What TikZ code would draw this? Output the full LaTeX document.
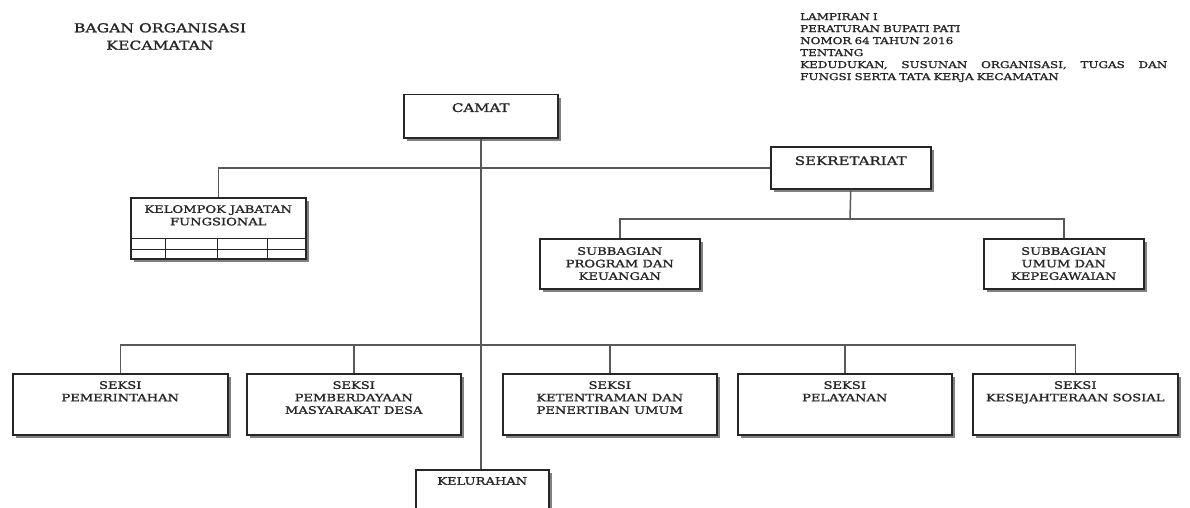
\documentclass[tikz,border=0pt]{standalone}
\usepackage{fontspec}
\setmainfont{DejaVu Serif}[FakeStretch=1.27,FakeBold=1.5]
\usetikzlibrary{positioning,shadows}
\tikzstyle{unit} = [draw=black!85, line width=1.5pt, fill=white, inner sep=0pt, anchor=north west, drop shadow={shadow xshift=3pt, shadow yshift=-3pt, fill=black!50, opacity=1}]
\tikzstyle{link} = [draw=black!65, line width=1.5pt]
\tikzset{
  unitname/.style ={inner sep=0pt, align=center, text=black!85, font=\fontsize{10.3}{12.5}\selectfont},
  cell/.style ={draw=black!85, line width=1pt}
}

\begin{document}
\begin{tikzpicture}[x=1pt,y=-1pt]
	\clip (0,0) rectangle (1190,508);
	\useasboundingbox (0,0) rectangle (1190,508);

	% judul dan lampiran
	\node[inner sep=0pt, align=center, anchor=north, text=black!85, font=\fontsize{12.3}{17.4}\selectfont] (judul) at (160,23) {BAGAN ORGANISASI\\KECAMATAN};
	\node[inner sep=0pt, align=left, anchor=north west, text width=367pt, text=black!85, font=\fontsize{9.4}{12}\selectfont] (lampiran) at (800,13) {LAMPIRAN I\\PERATURAN BUPATI PATI\\NOMOR 64 TAHUN 2016\\TENTANG\\\makebox[367pt]{KEDUDUKAN,\hfill SUSUNAN\hfill ORGANISASI,\hfill TUGAS\hfill DAN}\\FUNGSI SERTA TATA KERJA KECAMATAN};

	% kotak
	\node[unit, minimum width=154pt, minimum height=43pt] (camat) at (403,94) {};
	\node[unit, minimum width=160pt, minimum height=42pt] (sekre) at (770,146) {};
	\node[unit, minimum width=175pt, minimum height=61pt] (jabfung) at (130,197) {};
	\node[unit, minimum width=160pt, minimum height=50pt] (subprog) at (539,238) {};
	\node[unit, minimum width=160pt, minimum height=50pt] (subumum) at (983,238) {};
	\node[unit, minimum width=215pt, minimum height=61pt] (seksi1) at (12,373) {};
	\node[unit, minimum width=214pt, minimum height=61pt] (seksi2) at (246,373) {};
	\node[unit, minimum width=214pt, minimum height=61pt] (seksi3) at (502,373) {};
	\node[unit, minimum width=214pt, minimum height=61pt] (seksi4) at (737,373) {};
	\node[unit, minimum width=205pt, minimum height=61pt] (seksi5) at (972,373) {};
	\node[unit, minimum width=133pt, minimum height=60pt] (kel) at (415,469) {};

	% tabel jabatan fungsional
	\draw[cell] ([yshift=21pt]jabfung.south west) -- ([yshift=21pt]jabfung.south east);
	\draw[cell] ([yshift=10pt]jabfung.south west) -- ([yshift=10pt]jabfung.south east);
	\foreach \dx in {35,87,137}
		\draw[cell] ([xshift=\dx pt, yshift=21pt]jabfung.south west) -- ([xshift=\dx pt]jabfung.south west);

	% teks kotak
	\node[unitname, font=\fontsize{11.8}{14}\selectfont, below=9pt of camat.north] (camattxt) {CAMAT};
	\node[unitname, font=\fontsize{11.8}{14}\selectfont, below=10pt of sekre.north] (sekretxt) {SEKRETARIAT};
	\node[unitname, below=8pt of jabfung.north] (jabfungtxt) {KELOMPOK JABATAN\\FUNGSIONAL};
	\node[unitname, below=9pt of subprog.north] (subprogtxt) {SUBBAGIAN\\PROGRAM DAN\\KEUANGAN};
	\node[unitname, below=9pt of subumum.north] (subumumtxt) {SUBBAGIAN\\UMUM DAN\\KEPEGAWAIAN};
	\node[unitname, below=8pt of seksi1.north] (seksi1txt) {SEKSI\\PEMERINTAHAN};
	\node[unitname, below=8pt of seksi2.north] (seksi2txt) {SEKSI\\PEMBERDAYAAN\\MASYARAKAT DESA};
	\node[unitname, below=8pt of seksi3.north] (seksi3txt) {SEKSI\\KETENTRAMAN DAN\\PENERTIBAN UMUM};
	\node[unitname, below=8pt of seksi4.north] (seksi4txt) {SEKSI\\PELAYANAN};
	\node[unitname, below=8pt of seksi5.north] (seksi5txt) {SEKSI\\KESEJAHTERAAN SOSIAL};
	\node[unitname, below=8pt of kel.north] (keltxt) {KELURAHAN};

	% garis
	\coordinate (sekbus) at (850,219);
	\coordinate (seksibus) at (482,345);
	\draw[link] (camat.south) -- (camat.south |- kel.north);
	\draw[link] (sekre.west) -- (sekre.west -| jabfung.north) -- (jabfung.north);
	\draw[link] (sekre.south) -- (sekbus);
	\draw[link] (subprog.north) -- (subprog.north |- sekbus) -- (subumum.north |- sekbus) -- (subumum.north);
	\draw[link] (seksi1.north) -- (seksi1.north |- seksibus) -- (seksi5.north |- seksibus) -- (seksi5.north);
	\foreach \s in {seksi2,seksi3,seksi4}
		\draw[link] (\s.north) -- (\s.north |- seksibus);
\end{tikzpicture}
\end{document}
